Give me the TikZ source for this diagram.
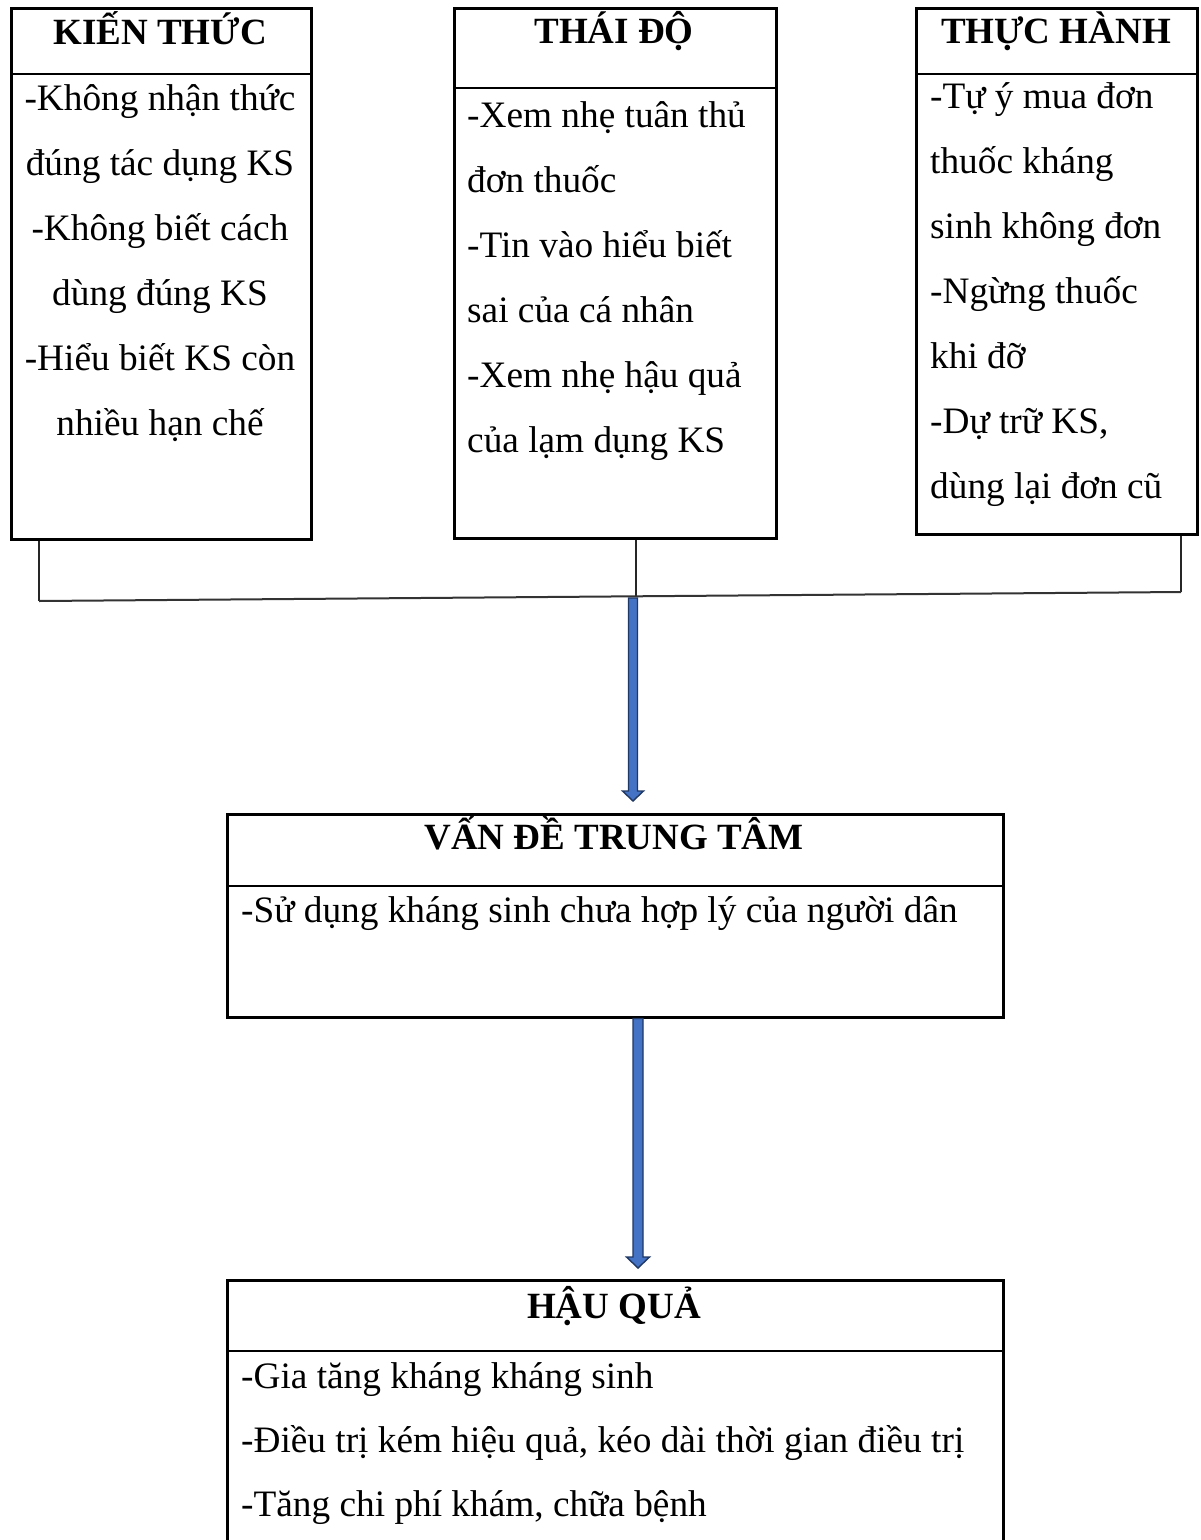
\documentclass[tikz,border=0pt]{standalone}
\usepackage{fontspec}
\setmainfont{Liberation Serif}
\usetikzlibrary{calc}
\definecolor{arrfill}{HTML}{4472C4}
\definecolor{arrline}{HTML}{203864}
\begin{document}
\begin{tikzpicture}[x=1pt,y=-1pt,
  box/.style={draw=black, line width=2.5pt, anchor=north west, inner sep=0pt, minimum width=#1},
  sepline/.style={draw=black, line width=2.5pt},
  conn/.style={draw=black!85, line width=1.3pt},
  hline/.style={draw=black!80, line width=2pt},
  head/.style={font=\fontsize{37}{44}\selectfont\bfseries, inner sep=0pt, anchor=base},
  bodyc/.style={font=\fontsize{37.3}{44}\selectfont, inner sep=0pt, anchor=base},
  bodyl/.style={font=\fontsize{37.3}{44}\selectfont, inner sep=0pt, anchor=base west},
  blockarrow/.style={fill=arrfill, draw=arrline, line width=1.4pt, line join=miter}
]
\useasboundingbox (0,0) rectangle (1200,1540);
\fill[white] (0,0) rectangle (1200,1540);
\clip (0,0) rectangle (1200,1540);

% ---- boxes ----
\node[box=300pt, minimum height=531pt] (kien) at (10,7) {};
\node[box=322pt, minimum height=530pt] (thaido) at (453,7) {};
\node[box=281pt, minimum height=526pt] (thuchanh) at (915,7) {};
\node[box=776pt, minimum height=203pt] (vande) at (226,813) {};
\node[box=776pt, minimum height=300pt] (hauqua) at (226,1279) {};

% ---- header separators ----
\draw[sepline] (kien.west |- 0,74) -- (kien.east |- 0,74);
\draw[sepline] (thaido.west |- 0,88) -- (thaido.east |- 0,88);
\draw[sepline] (thuchanh.west |- 0,74) -- (thuchanh.east |- 0,74);
\draw[sepline] (vande.west |- 0,886) -- (vande.east |- 0,886);
\draw[sepline] (hauqua.west |- 0,1351) -- (hauqua.east |- 0,1351);

% ---- headers ----
\node[head] (hk) at (160,44) {KIẾN THỨC};
\node[head] (ht) at (614,43) {THÁI ĐỘ};
\node[head] (hh) at (1056,43) {THỰC HÀNH};
\node[head] (hv) at (614,849) {VẤN ĐỀ TRUNG TÂM};
\node[head] (hq) at (614,1318) {HẬU QUẢ};

% ---- KIẾN THỨC body ----
\node[bodyc] (k1) at (160,110) {-Không nhận thức};
\node[bodyc] (k2) at (160,175) {đúng tác dụng KS};
\node[bodyc] (k3) at (160,240) {-Không biết cách};
\node[bodyc] (k4) at (160,305) {dùng đúng KS};
\node[bodyc] (k5) at (160,370) {-Hiểu biết KS còn};
\node[bodyc] (k6) at (160,435) {nhiều hạn chế};

% ---- THÁI ĐỘ body ----
\node[bodyl] (t1) at (467,127) {-Xem nhẹ tuân thủ};
\node[bodyl] (t2) at (467,192) {đơn thuốc};
\node[bodyl] (t3) at (467,257) {-Tin vào hiểu biết};
\node[bodyl] (t4) at (467,322) {sai của cá nhân};
\node[bodyl] (t5) at (467,387) {-Xem nhẹ hậu quả};
\node[bodyl] (t6) at (467,452) {của lạm dụng KS};

% ---- THỰC HÀNH body ----
\node[bodyl] (p1) at (930,108) {-Tự ý mua đơn};
\node[bodyl] (p2) at (930,173) {thuốc kháng};
\node[bodyl] (p3) at (930,238) {sinh không đơn};
\node[bodyl] (p4) at (930,303) {-Ngừng thuốc};
\node[bodyl] (p5) at (930,368) {khi đỡ};
\node[bodyl] (p6) at (930,433) {-Dự trữ KS,};
\node[bodyl] (p7) at (930,498) {dùng lại đơn cũ};

% ---- VẤN ĐỀ body ----
\node[bodyl] (v1) at (241,922) {-Sử dụng kháng sinh chưa hợp lý của người dân};

% ---- HẬU QUẢ body ----
\node[bodyl] (q1) at (241,1388) {-Gia tăng kháng kháng sinh};
\node[bodyl] (q2) at (241,1452) {-Điều trị kém hiệu quả, kéo dài thời gian điều trị};
\node[bodyl] (q3) at (241,1516) {-Tăng chi phí khám, chữa bệnh};

% ---- connectors ----
\coordinate (jl) at (39,601);
\coordinate (jm) at (636,597);
\coordinate (jr) at (1181,592);
\draw[conn] (kien.south -| jl) -- (jl);
\draw[conn] (thaido.south -| jm) -- (jm);
\draw[conn] (thuchanh.south -| jr) -- (jr);
\draw[hline] (jl) -- (jr);

% ---- block arrows ----
\coordinate (a1s) at (633,598);
\coordinate (a1e) at (vande.north -| a1s);
\coordinate (a1t) at ($(a1e)+(0,-12)$);
\draw[blockarrow] ($(a1s)+(-4.5,0)$) -- ($(a1t)+(-4.5,-10)$) -- ($(a1t)+(-10.5,-10)$) -- (a1t) -- ($(a1t)+(10.5,-10)$) -- ($(a1t)+(4.5,-10)$) -- ($(a1s)+(4.5,0)$) -- cycle;

\coordinate (a2s) at (vande.south -| 638,0);
\coordinate (a2e) at (hauqua.north -| a2s);
\coordinate (a2t) at ($(a2e)+(0,-11)$);
\draw[blockarrow] ($(a2s)+(-5,0)$) -- ($(a2t)+(-5,-11)$) -- ($(a2t)+(-11.5,-11)$) -- (a2t) -- ($(a2t)+(11.5,-11)$) -- ($(a2t)+(5,-11)$) -- ($(a2s)+(5,0)$) -- cycle;
\end{tikzpicture}
\end{document}
